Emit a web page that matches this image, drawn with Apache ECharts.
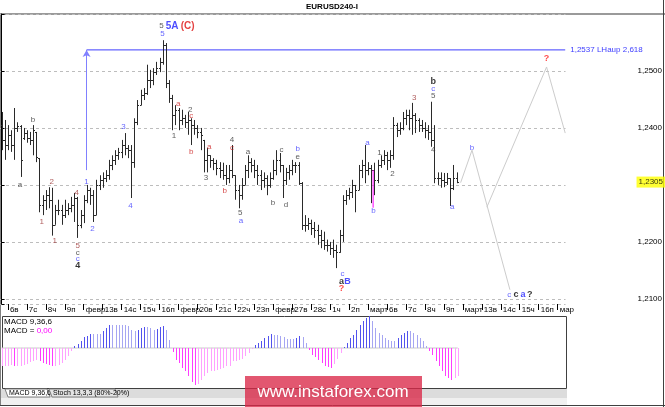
<!DOCTYPE html>
<html><head><meta charset="utf-8">
<script src="https://cdn.jsdelivr.net/npm/echarts@6.0.0/dist/echarts.min.js"></script>
<style>html,body{margin:0;padding:0;background:#fff;}#c{width:665px;height:407px;}</style>
</head><body><div id="c"></div>
<script>
const FONT = 'Liberation Sans, Arial, sans-serif';
const dayLabels = ['6в','7с','8ч','9п','февр.','13в','14с','15ч','16п','февр.','20в','21с','22ч','23п','февр.','27в','28с','1ч','2п','март','6в','7с','8ч','9п','март','13в','14с','15ч','16п','мар'];
const SLOTS = 179;
// [open, high, low, close], one per H4 bar
const ohlc = [
[1.2405,1.2428,1.2361,1.2379],[1.2379,1.2414,1.2344,1.2370],[1.2370,1.2405,1.2361,1.2388],[1.2388,1.2396,1.2358,1.2370],
[1.2370,1.2435,1.2344,1.2400],[1.2400,1.2410,1.2393,1.2403],[1.2403,1.2405,1.2314,1.2344],[1.2382,1.2400,1.2379,1.2391],
[1.2391,1.2396,1.2374,1.2382],[1.2382,1.2393,1.2370,1.2379],[1.2379,1.2405,1.2352,1.2396],[1.2393,1.2393,1.2340,1.2349],
[1.2347,1.2347,1.2252,1.2265],[1.2265,1.2282,1.2247,1.2274],[1.2274,1.2291,1.2256,1.2282],[1.2282,1.2296,1.2259,1.2274],
[1.2274,1.2295,1.2211,1.2230],[1.2230,1.2265,1.2230,1.2256],[1.2256,1.2274,1.2247,1.2256],[1.2256,1.2265,1.2230,1.2247],
[1.2247,1.2274,1.2242,1.2256],[1.2256,1.2268,1.2247,1.2259],[1.2259,1.2279,1.2252,1.2265],[1.2265,1.2286,1.2235,1.2277],
[1.2277,1.2279,1.2207,1.2230],[1.2230,1.2256,1.2224,1.2247],[1.2247,1.2282,1.2233,1.2274],[1.2274,1.2300,1.2268,1.2291],
[1.2291,1.2295,1.2265,1.2282],[1.2282,1.2291,1.2235,1.2247],[1.2247,1.2309,1.2247,1.2300],[1.2300,1.2317,1.2291,1.2309],
[1.2309,1.2322,1.2295,1.2312],[1.2312,1.2326,1.2305,1.2317],[1.2317,1.2344,1.2309,1.2335],[1.2335,1.2352,1.2326,1.2344],
[1.2344,1.2361,1.2335,1.2352],[1.2352,1.2365,1.2344,1.2358],[1.2358,1.2379,1.2347,1.2370],[1.2370,1.2391,1.2352,1.2365],
[1.2365,1.2370,1.2347,1.2361],[1.2361,1.2370,1.2277,1.2340],[1.2340,1.2417,1.2330,1.2410],[1.2410,1.2449,1.2405,1.2440],
[1.2440,1.2467,1.2440,1.2458],[1.2458,1.2470,1.2449,1.2461],[1.2461,1.2511,1.2458,1.2484],[1.2484,1.2502,1.2470,1.2484],
[1.2484,1.2505,1.2475,1.2498],[1.2498,1.2516,1.2493,1.2505],[1.2505,1.2523,1.2498,1.2516],[1.2516,1.2554,1.2511,1.2546],
[1.2546,1.2549,1.2470,1.2479],[1.2479,1.2484,1.2444,1.2452],[1.2452,1.2458,1.2396,1.2423],[1.2423,1.2440,1.2405,1.2432],
[1.2432,1.2435,1.2396,1.2414],[1.2414,1.2432,1.2405,1.2417],[1.2417,1.2423,1.2400,1.2410],[1.2410,1.2428,1.2388,1.2414],
[1.2414,1.2417,1.2370,1.2405],[1.2405,1.2414,1.2388,1.2400],[1.2400,1.2405,1.2382,1.2393],[1.2393,1.2400,1.2361,1.2388],
[1.2379,1.2379,1.2322,1.2344],[1.2344,1.2365,1.2322,1.2352],[1.2352,1.2352,1.2330,1.2344],[1.2344,1.2347,1.2326,1.2339],
[1.2339,1.2344,1.2317,1.2330],[1.2330,1.2340,1.2312,1.2326],[1.2326,1.2339,1.2309,1.2317],[1.2317,1.2335,1.2300,1.2312],
[1.2312,1.2335,1.2303,1.2326],[1.2326,1.2370,1.2312,1.2317],[1.2317,1.2317,1.2274,1.2291],[1.2291,1.2300,1.2259,1.2282],
[1.2282,1.2312,1.2274,1.2300],[1.2300,1.2335,1.2300,1.2326],[1.2326,1.2352,1.2312,1.2340],[1.2340,1.2347,1.2322,1.2335],
[1.2335,1.2344,1.2312,1.2326],[1.2326,1.2335,1.2300,1.2317],[1.2317,1.2326,1.2291,1.2309],[1.2309,1.2322,1.2295,1.2312],
[1.2312,1.2317,1.2282,1.2300],[1.2300,1.2322,1.2295,1.2312],[1.2312,1.2344,1.2309,1.2326],[1.2326,1.2361,1.2317,1.2344],
[1.2344,1.2356,1.2322,1.2335],[1.2335,1.2335,1.2277,1.2309],[1.2309,1.2330,1.2300,1.2322],[1.2322,1.2335,1.2309,1.2326],
[1.2326,1.2344,1.2317,1.2335],[1.2335,1.2340,1.2321,1.2335],[1.2335,1.2340,1.2300,1.2303],[1.2303,1.2305,1.2221,1.2230],
[1.2230,1.2247,1.2218,1.2230],[1.2230,1.2242,1.2221,1.2233],[1.2233,1.2239,1.2212,1.2224],[1.2224,1.2235,1.2207,1.2221],
[1.2221,1.2230,1.2195,1.2212],[1.2212,1.2221,1.2189,1.2204],[1.2204,1.2218,1.2186,1.2195],[1.2195,1.2204,1.2183,1.2195],
[1.2195,1.2200,1.2177,1.2189],[1.2189,1.2204,1.2172,1.2186],[1.2186,1.2195,1.2154,1.2183],[1.2183,1.2221,1.2181,1.2212],
[1.2212,1.2282,1.2200,1.2274],[1.2274,1.2291,1.2265,1.2282],[1.2282,1.2295,1.2274,1.2288],[1.2288,1.2309,1.2277,1.2300],
[1.2300,1.2300,1.2252,1.2291],[1.2291,1.2335,1.2291,1.2326],[1.2326,1.2344,1.2312,1.2335],[1.2335,1.2370,1.2303,1.2326],
[1.2326,1.2340,1.2317,1.2330],[1.2330,1.2335,1.2268,1.2326],[1.2326,1.2339,1.2282,1.2309],[1.2309,1.2344,1.2303,1.2335],
[1.2335,1.2352,1.2330,1.2344],[1.2344,1.2361,1.2335,1.2352],[1.2352,1.2358,1.2326,1.2344],[1.2344,1.2361,1.2330,1.2352],
[1.2352,1.2419,1.2344,1.2405],[1.2405,1.2409,1.2384,1.2396],[1.2396,1.2410,1.2388,1.2400],[1.2400,1.2428,1.2396,1.2417],
[1.2417,1.2432,1.2405,1.2423],[1.2423,1.2432,1.2396,1.2417],[1.2417,1.2444,1.2388,1.2423],[1.2423,1.2426,1.2391,1.2414],
[1.2414,1.2417,1.2393,1.2405],[1.2405,1.2414,1.2393,1.2400],[1.2400,1.2410,1.2382,1.2396],[1.2396,1.2405,1.2379,1.2393],
[1.2393,1.2446,1.2367,1.2379],[1.2379,1.2405,1.2303,1.2312],[1.2312,1.2322,1.2300,1.2312],[1.2312,1.2322,1.2295,1.2309],
[1.2309,1.2321,1.2296,1.2305],[1.2305,1.2321,1.2300,1.2312],[1.2312,1.2312,1.2263,1.2295],[1.2295,1.2335,1.2291,1.2312],
[1.2312,1.2322,1.2303,1.2305]
];
// MACD(9,36,6) histogram, one per bar
const macd = [
-0.0018,-0.0018,-0.0018,-0.0017,-0.0018,-0.0018,-0.0018,-0.0017,-0.0016,-0.0014,-0.0013,-0.0012,-0.0013,-0.0015,-0.0016,-0.0017,
-0.0018,-0.0018,-0.0017,-0.0015,-0.0012,-0.0008,-0.0003,0.0002,0.0004,0.0007,0.0011,0.0012,0.0014,0.0014,0.0014,0.0014,
0.0017,0.0020,0.0023,0.0023,0.0023,0.0023,0.0023,0.0023,0.0022,0.0018,0.0017,0.0018,0.0020,0.0021,0.0021,0.0020,
0.0018,0.0019,0.0021,0.0022,0.0018,0.0008,-0.0004,-0.0012,-0.0015,-0.0020,-0.0023,-0.0028,-0.0034,-0.0037,-0.0036,-0.0032,
-0.0028,-0.0025,-0.0023,-0.0023,-0.0022,-0.0021,-0.0020,-0.0018,-0.0018,-0.0013,-0.0013,-0.0012,-0.0011,-0.0008,-0.0005,-0.0001,
0.0003,0.0005,0.0007,0.0010,0.0012,0.0014,0.0013,0.0013,0.0012,0.0011,0.0009,0.0009,0.0009,0.0010,0.0012,0.0011,
0.0005,-0.0002,-0.0007,-0.0009,-0.0012,-0.0015,-0.0018,-0.0019,-0.0020,-0.0016,-0.0011,-0.0005,0.0001,0.0005,0.0010,0.0013,
0.0018,0.0023,0.0027,0.0030,0.0032,0.0027,0.0020,0.0015,0.0013,0.0010,0.0008,0.0007,0.0007,0.0010,0.0013,0.0015,
0.0017,0.0017,0.0015,0.0013,0.0010,0.0007,0.0002,-0.0003,-0.0007,-0.0013,-0.0018,-0.0023,-0.0028,-0.0030,-0.0032,-0.0030,
-0.0028
];
// wave annotations: [bar position, price, text]
const labelsBlack = [[9.9,1.2414,'b'],[5.8,1.2300,'a'],[24.1,1.2181,'c'],[54.6,1.2386,'1'],[59.7,1.2432,'2'],[64.7,1.2312,'3'],
 [72.9,1.2379,'4'],[75.5,1.2251,'5'],[78.0,1.2358,'a'],[88.6,1.2361,'c'],[85.9,1.2268,'b'],[90.0,1.2265,'d'],[93.7,1.2349,'e'],
 [119.6,1.2356,'1'],[123.7,1.2319,'2'],[136.6,1.2456,'5'],[136.6,1.2361,'4'],[50.6,1.2579,'5']];
const labelsBrown = [[12.7,1.2235,'1'],[15.9,1.2305,'2'],[16.8,1.2202,'1'],[23.8,1.2286,'4'],[24.1,1.2193,'5'],[130.6,1.2453,'3']];
const labelsRed = [[55.9,1.2442,'a'],[60.0,1.2421,'c'],[60.0,1.2358,'b'],[65.7,1.2367,'a'],[72.9,1.2365,'c'],[70.6,1.2289,'b']];
const labelsBlue = [[24.1,1.2170,'c'],[26.9,1.2305,'1'],[28.8,1.2223,'2'],[38.6,1.2402,'3'],[40.8,1.2263,'4'],[50.9,1.2565,'5'],
 [75.8,1.2237,'a'],[93.7,1.2363,'b'],[107.9,1.2144,'c'],[115.8,1.2374,'a'],[117.7,1.2254,'b'],[136.6,1.2468,'c'],[142.6,1.2261,'a'],
 [148.9,1.2365,'b'],[160.7,1.2107,'c']];
const labelsBoldBlack = [[24.1,1.2158,'4'],[107.6,1.2130,'a'],[136.6,1.2482,'b'],[162.8,1.2107,'c'],[167.2,1.2107,'?']];
const labelsBoldBlue = [[109.5,1.2130,'B'],[165.0,1.2107,'a']];
const labelsBoldRed = [[107.6,1.2118,'?'],[172.5,1.2521,'?']];
const labelsTitleBlue = [[54.0,1.2579,'5A']];
const labelsTitleRed = [[58.9,1.2579,'(C)']];
// drawings
const targetLevel = 1.2537, targetFrom = 26.9, targetText = 'LHaup 2,618';
const arrowLine = [[26.9,1.2326],[26.9,1.2537]];
const projA = [[145.3,1.2304],[148.9,1.2361],[160.9,1.2116]];
const projB = [[153.6,1.2261],[172.5,1.2507],[178.4,1.2391]];
const magentaMark = [[117.6,1.2326],[117.6,1.2260]];

const cats = Array.from({length:SLOTS}, (_, i) => ((i-2)%6===0 && (i-2)/6 < dayLabels.length) ? dayLabels[(i-2)/6] : '');
const tickFn = (i) => (i-2) >= 0 && (i-2)%6===0;
const fmt = v => v.toFixed(4).replace('.', ',');
const lastClose = ohlc[ohlc.length-1][3];

function labelSeries(arr, color, size, weight) {
  return {type:'scatter', xAxisIndex:1, yAxisIndex:0, symbolSize:0, silent:true, z:10,
    data: arr.map(d => ({value:[d[0], d[1]], name:d[2]})),
    label:{show:true, position:'inside', formatter:p => p.name, color:color, fontSize:size, fontWeight:weight, fontFamily:FONT}};
}

const chart = echarts.init(document.getElementById('c'), null, {renderer:'canvas'});
chart.setOption({
  animation:false,
  backgroundColor:'#ffffff',
  grid:[
    {left:-1, top:14, width:568, height:290, show:false},
    {left:-1, top:316, width:568, height:72, show:false}
  ],
  xAxis:[
    {type:'category', gridIndex:0, data:cats, boundaryGap:true,
     axisLine:{show:false},
     axisTick:{show:true, alignWithLabel:true, interval:tickFn, length:6, lineStyle:{color:'#000'}},
     axisLabel:{interval:tickFn, align:'left', margin:2, fontSize:8, color:'#000', fontFamily:FONT, padding:[0,0,0,2]},
     splitLine:{show:false}},
    {type:'value', gridIndex:0, min:-0.5, max:SLOTS-0.5, show:false},
    {type:'value', gridIndex:1, min:-0.5, max:SLOTS-0.5, show:false}
  ],
  yAxis:[
    {type:'value', gridIndex:0, min:1.2091, max:1.26, position:'right', offset:71,
     axisLine:{show:true, lineStyle:{color:'#000'}},
     axisTick:{show:true, length:3, lineStyle:{color:'#000'}},
     axisLabel:{margin:1, fontSize:8, color:'#000', fontFamily:FONT,
       formatter:v => (Math.abs(v*100-Math.round(v*100))<1e-6 && v<1.2595 && Math.abs(v-1.23)>1e-6) ? fmt(v) : ''},
     splitLine:{show:true, lineStyle:{color:'#bdbdbd', type:[3,3]}}},
    {type:'value', gridIndex:1, min:-0.0040, max:0.0032, show:false}
  ],
  graphic:[
    {type:'line', shape:{x1:0,y1:14,x2:665,y2:14}, style:{stroke:'#9a9a9a', lineWidth:2}},
    {type:'line', shape:{x1:0.5,y1:14,x2:0.5,y2:405}, style:{stroke:'#808080', lineWidth:1}},
    {type:'line', shape:{x1:663.5,y1:0,x2:663.5,y2:407}, style:{stroke:'#404040', lineWidth:1}},
    {type:'line', shape:{x1:0,y1:405.5,x2:665,y2:405.5}, style:{stroke:'#404040', lineWidth:1}},
    {type:'text', x:332, y:7, style:{text:'EURUSD240-I', font:'bold 8px '+FONT, fill:'#000', textAlign:'center', textVerticalAlign:'middle'}},
    {type:'rect', shape:{x:2.5,y:316.5,width:564,height:72}, style:{fill:'none', stroke:'#404040', lineWidth:1}},
    {type:'text', x:4, y:318, style:{text:'MACD 9,36,6', font:'8px '+FONT, fill:'#000'}},
    {type:'text', x:4, y:327, style:{text:'{a|MACD = }{b|0,00}', rich:{a:{font:'8px '+FONT, fill:'#000'}, b:{font:'8px '+FONT, fill:'#ff00ff'}}}},
    {type:'rect', shape:{x:1,y:389,width:566,height:9}, style:{fill:'#dcdcdc'}},
    {type:'rect', shape:{x:1,y:398,width:566,height:7}, style:{fill:'#f0f0f0'}},
    {type:'polygon', shape:{points:[[5,389],[47,389],[50,397],[8,397]]}, style:{fill:'#ffffff', stroke:'#808080', lineWidth:1}},
    {type:'text', x:9, y:389.5, style:{text:'MACD 9,36,6', font:'7px '+FONT, fill:'#000'}},
    {type:'polygon', shape:{points:[[49,389],[115,389],[118,397],[52,397]]}, style:{fill:'#e4e4e4', stroke:'#808080', lineWidth:1}},
    {type:'text', x:53, y:389.5, style:{text:'Stoch 13,3,3 (80%-20%)', font:'7px '+FONT, fill:'#000'}},
    {type:'rect', z:100, shape:{x:245,y:376,width:177,height:31}, style:{fill:'rgba(218,40,72,0.78)'}},
    {type:'text', z:101, x:333, y:392, style:{text:'www.instaforex.com', font:'17px '+FONT, fill:'#ffffff', textAlign:'center', textVerticalAlign:'middle'}}
  ],
  series:[
    {type:'line', xAxisIndex:1, yAxisIndex:0, data:projA, symbol:'none', silent:true, lineStyle:{color:'#cccccc', width:1}, z:1},
    {type:'line', xAxisIndex:1, yAxisIndex:0, data:projB, symbol:'none', silent:true, lineStyle:{color:'#cccccc', width:1}, z:1},
    {type:'line', xAxisIndex:1, yAxisIndex:0, data:[[targetFrom,targetLevel],[SLOTS-0.6,targetLevel]], symbol:'none', silent:true,
     lineStyle:{color:'#3d3dff', width:1}, z:3,
     endLabel:{show:true, formatter:() => fmt(targetLevel)+' '+targetText, color:'#3d3dff', fontSize:8, fontFamily:FONT, distance:5}},
    {type:'line', xAxisIndex:1, yAxisIndex:0, data:[], silent:true, z:3,
     markLine:{silent:true, symbol:['none','arrow'], symbolSize:[6,7], lineStyle:{color:'#8080ff', width:1, type:'solid'}, label:{show:false},
       data:[[{coord:arrowLine[0]},{coord:arrowLine[1]}]]}},
    {type:'line', xAxisIndex:1, yAxisIndex:0, data:magentaMark, symbol:'none', silent:true, lineStyle:{color:'#ff00ff', width:1}, z:6},
    {type:'custom', xAxisIndex:1, yAxisIndex:0, silent:true, z:5,
     data: ohlc.map((d,i) => [i, d[0], d[1], d[2], d[3]]),
     renderItem:(params, api) => {
       const i = api.value(0);
       const o = api.coord([i, api.value(1)]), h = api.coord([i, api.value(2)]);
       const l = api.coord([i, api.value(3)]), c = api.coord([i, api.value(4)]);
       const x = Math.round(h[0]) + 0.5;
       const col = '#2a2a2a';
       return {type:'group', children:[
         {type:'line', shape:{x1:x, y1:h[1], x2:x, y2:l[1]}, style:{stroke:col, lineWidth:1}},
         {type:'line', shape:{x1:x-1.5, y1:Math.round(o[1])+0.5, x2:x, y2:Math.round(o[1])+0.5}, style:{stroke:col, lineWidth:1}},
         {type:'line', shape:{x1:x, y1:Math.round(c[1])+0.5, x2:x+1.5, y2:Math.round(c[1])+0.5}, style:{stroke:col, lineWidth:1}}
       ]};
     }},
    {type:'scatter', xAxisIndex:1, yAxisIndex:0, symbolSize:0, silent:true, z:20, clip:false,
     data:[[SLOTS-0.5, lastClose]],
     label:{show:true, position:'right', distance:71, formatter:() => fmt(lastClose), backgroundColor:'#ffff00',
            color:'#000', fontSize:8, fontFamily:FONT, padding:[2,2,1,2]}},
    labelSeries(labelsBlack, '#333333', 8, 'normal'),
    labelSeries(labelsBrown, '#9b3333', 8, 'normal'),
    labelSeries(labelsRed, '#cc2222', 8, 'normal'),
    labelSeries(labelsBlue, '#4040ff', 8, 'normal'),
    labelSeries(labelsBoldBlack, '#000000', 9, 'bold'),
    labelSeries(labelsBoldBlue, '#2020ff', 9, 'bold'),
    labelSeries(labelsBoldRed, '#ff2020', 9, 'bold'),
    labelSeries(labelsTitleBlue, '#2020ff', 10, 'bold'),
    labelSeries(labelsTitleRed, '#dd1111', 10, 'bold'),
    {type:'line', xAxisIndex:2, yAxisIndex:1, data:macd.map((v,i) => [i,0]), symbol:'none', silent:true,
     lineStyle:{color:'#c8c8c8', width:1}, z:1},
    {type:'custom', xAxisIndex:2, yAxisIndex:1, silent:true, z:4,
     data: macd.map((v,i) => [i, v]),
     renderItem:(params, api) => {
       const i = api.value(0), v = api.value(1);
       const prev = i > 0 ? macd[i-1] : v;
       const p0 = api.coord([i, 0]), p1 = api.coord([i, v]);
       const x = Math.round(p0[0]) + 0.5;
       let col;
       if (v >= 0) col = v > prev ? '#5252ee' : '#a6a6f2';
       else col = v < prev ? '#ff3cff' : '#ffa0ff';
       return {type:'line', shape:{x1:x, y1:p0[1], x2:x, y2:p1[1]}, style:{stroke:col, lineWidth:1}};
     }}
  ]
});
</script>
</body></html>
